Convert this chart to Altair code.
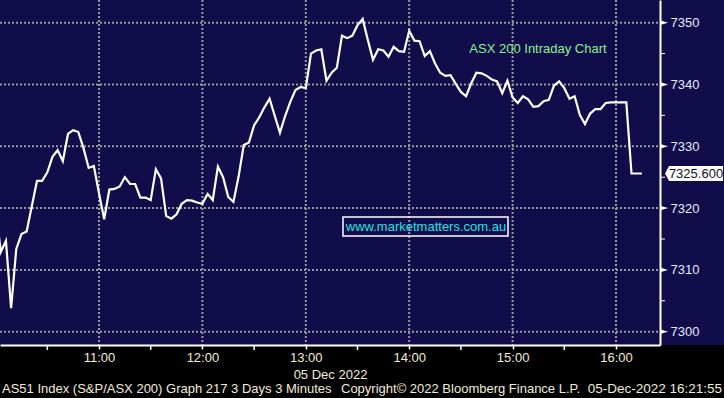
import altair as alt
import pandas as pd

# ---- data (3-minute bars from 10:00) ----
prices = [
    7320.0, 7312.9, 7314.7, 7303.8, 7313.4, 7315.8, 7316.2, 7320.3, 7324.4, 7324.4,
    7325.8, 7328.3, 7329.4, 7327.6, 7332.0, 7332.6, 7332.3, 7329.7, 7326.5, 7326.8,
    7322.4, 7318.2, 7323.0, 7323.1, 7323.5, 7325.0, 7323.9, 7323.9, 7321.7, 7321.7,
    7321.3, 7326.3, 7324.8, 7318.7, 7318.3, 7319.0, 7320.7, 7321.3, 7321.2, 7320.9,
    7320.7, 7322.3, 7321.3, 7326.7, 7325.0, 7321.8, 7321.0, 7325.1, 7330.2, 7330.6,
    7333.4, 7334.7, 7336.3, 7337.7, 7334.9, 7332.2, 7334.9, 7337.2, 7339.1, 7339.6,
    7339.4, 7345.0, 7345.5, 7345.7, 7340.6, 7341.9, 7342.7, 7347.9, 7347.5, 7347.9,
    7349.6, 7350.6, 7347.2, 7344.0, 7345.7, 7345.5, 7344.5, 7346.1, 7345.4, 7345.3,
    7348.7, 7347.1, 7347.0, 7344.6, 7345.4, 7343.4, 7341.9, 7341.4, 7341.5, 7340.1,
    7338.8, 7338.1, 7340.2, 7341.9, 7341.8, 7341.4, 7340.8, 7340.5, 7338.6, 7340.6,
    7337.9, 7337.0, 7338.1, 7337.6, 7336.4, 7336.5, 7337.3, 7337.5, 7339.8, 7340.5,
    7339.4, 7337.7, 7338.1, 7335.1, 7333.6, 7335.3, 7336.0, 7336.0, 7337.0, 7337.1,
    7337.1, 7337.1, 7337.1, 7325.6, 7325.6, 7325.6,
]
start_time = "2022-12-05 10:00"
bar_minutes = 3
last_price = 7325.6
last_label = "7325.600"

hour_ticks = ["2022-12-05 11:00", "2022-12-05 12:00", "2022-12-05 13:00",
              "2022-12-05 14:00", "2022-12-05 15:00", "2022-12-05 16:00"]
half_ticks = ["2022-12-05 10:30", "2022-12-05 11:30", "2022-12-05 12:30",
              "2022-12-05 13:30", "2022-12-05 14:30", "2022-12-05 15:30"]
y_major = [7300, 7310, 7320, 7330, 7340, 7350]
y_minor = [7305, 7315, 7325, 7335, 7345]

date_title = "05 Dec 2022"
chart_label = "ASX 200 Intraday Chart"
url_label = "www.marketmatters.com.au"
footer_left = "AS51 Index (S&P/ASX 200) Graph 217 3 Days 3 Minutes"
footer_mid = "Copyright\u00a9 2022 Bloomberg Finance L.P."
footer_right = "05-Dec-2022 16:21:55"

# ---- styling ----
NAVY = "#100d4a"
GRID = "#9a9a9a"
CREAM = "#f3ebd6"
RLAB = "#e4eaff"
FONT = "Liberation Sans"

times = pd.date_range(start_time, periods=len(prices), freq=f"{bar_minutes}min")
line_df = pd.DataFrame({"time": times, "price": prices})
hours_df = pd.DataFrame({"time": pd.to_datetime(hour_ticks)})
halves_df = pd.DataFrame({"time": pd.to_datetime(half_ticks)})
ymaj_df = pd.DataFrame({"v": y_major})
ymin_df = pd.DataFrame({"v": y_minor})
last_df = pd.DataFrame({"v": [last_price], "label": [last_label]})
one = pd.DataFrame({"a": [0]})

x_scale = alt.Scale(
    domain=[alt.DateTime(year=2022, month=12, date=5, hours=10, minutes=2, seconds=33),
            alt.DateTime(year=2022, month=12, date=5, hours=16, minutes=25, seconds=32)],
)
y_scale = alt.Scale(domain=[7297.85, 7353.67], zero=False, nice=False)

x_axis = alt.Axis(
    values=[alt.DateTime(year=2022, month=12, date=5, hours=h) for h in range(11, 17)],
    format="%H:%M", grid=False, domainColor="white", domainWidth=2,
    tickColor="white", tickSize=4, tickWidth=1.5, labelColor=CREAM, labelFont=FONT,
    labelFontSize=13, labelPadding=2, title=date_title, titleColor=CREAM,
    titleFont=FONT, titleFontSize=13, titleFontWeight="normal", titlePadding=4,
    zindex=1, labelFlush=False,
)
y_axis = alt.Axis(
    orient="right", values=y_major, grid=False, ticks=False, domainColor="white",
    domainWidth=2, labelColor=RLAB, labelFont=FONT, labelFontSize=13,
    labelPadding=10, title=None, zindex=1, format="d",
)

bottom_strip = alt.Chart(one).mark_rect(color="black").encode(
    x=alt.value(0), x2=alt.value(724), y=alt.value(345), y2=alt.value(398)
)

vgrid = alt.Chart(hours_df).mark_rule(
    stroke=GRID, strokeDash=[2, 2], strokeWidth=2, opacity=1
).encode(
    x=alt.X("time:T", scale=x_scale, axis=x_axis),
    y=alt.value(0), y2=alt.value(345),
)

hgrid = alt.Chart(ymaj_df).mark_rule(
    stroke=GRID, strokeDash=[2, 2], strokeWidth=2, opacity=1
).encode(
    y=alt.Y("v:Q", scale=y_scale, axis=y_axis),
    x=alt.value(0), x2=alt.value(660),
)

line = alt.Chart(line_df).mark_line(color="white", strokeWidth=2.2).encode(
    x=alt.X("time:T", scale=x_scale, axis=x_axis),
    y=alt.Y("price:Q", scale=y_scale, axis=y_axis),
)

x_minor = alt.Chart(halves_df).mark_rule(color="white", strokeWidth=1.5).encode(
    x=alt.X("time:T", scale=x_scale), y=alt.value(345), y2=alt.value(350)
)

y_minor_ticks = alt.Chart(ymin_df).mark_rule(color="white", strokeWidth=1).encode(
    y=alt.Y("v:Q", scale=y_scale), x=alt.value(660), x2=alt.value(665)
)

arrow = "M -1 -0.6 L 1 0 L -1 0.6 Z"
y_arrows = alt.Chart(ymaj_df).mark_point(
    shape=arrow, filled=True, size=64, color="white", opacity=1
).encode(y=alt.Y("v:Q", scale=y_scale), x=alt.value(664))

callout_shape = "M -1 0 L -0.86 -0.26 L 1 -0.26 L 1 0.26 L -0.86 0.26 Z"
callout = alt.Chart(last_df).mark_point(
    shape=callout_shape, filled=True, size=3364, color="white", opacity=1
).encode(y=alt.Y("v:Q", scale=y_scale), x=alt.value(694))
callout_text = alt.Chart(last_df).mark_text(
    color="#111111", font=FONT, fontSize=13, align="center", baseline="middle", dy=1
).encode(y=alt.Y("v:Q", scale=y_scale), x=alt.value(696), text="label:N")

asx_text = alt.Chart(one).mark_text(
    text=chart_label, color="#8cf08c", font=FONT, fontSize=13,
    align="center", baseline="middle"
).encode(x=alt.value(538), y=alt.value(49))

url_box = alt.Chart(one).mark_rect(
    fillOpacity=0, stroke="white", strokeWidth=1.5
).encode(x=alt.value(343), x2=alt.value(508), y=alt.value(217), y2=alt.value(236))
url_text = alt.Chart(one).mark_text(
    text=url_label, color="#20e4e4", font=FONT, fontSize=13,
    align="center", baseline="middle"
).encode(x=alt.value(426), y=alt.value(227))

foot1 = alt.Chart(one).mark_text(
    text=footer_left, color=CREAM, font=FONT, fontSize=13, align="left", baseline="middle"
).encode(x=alt.value(2), y=alt.value(389))
foot2 = alt.Chart(one).mark_text(
    text=footer_mid, color=CREAM, font=FONT, fontSize=13, align="left", baseline="middle"
).encode(x=alt.value(341), y=alt.value(389))
foot3 = alt.Chart(one).mark_text(
    text=footer_right, color=CREAM, font=FONT, fontSize=13.5, align="right", baseline="middle"
).encode(x=alt.value(722), y=alt.value(389))

chart = alt.layer(
    bottom_strip, vgrid, hgrid, line, x_minor, y_minor_ticks, y_arrows,
    callout, callout_text, asx_text, url_box, url_text, foot1, foot2, foot3,
).properties(
    width=660, height=345,
    padding={"left": 0, "top": 0, "right": 64, "bottom": 53},
    autosize=alt.AutoSizeParams(type="none"),
    background=NAVY,
).configure_view(strokeWidth=0, fill=NAVY)

chart.save("out.html", embed_options={"renderer": "svg", "actions": False})
